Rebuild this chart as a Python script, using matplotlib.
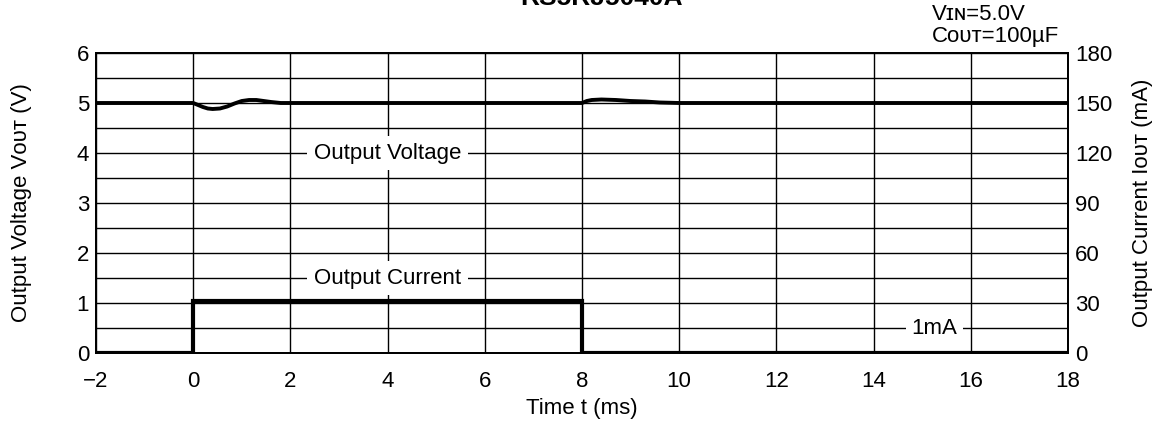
import matplotlib
matplotlib.use("Agg")
import matplotlib.pyplot as plt
from matplotlib.ticker import MultipleLocator

plt.rcParams['font.family'] = ['Liberation Sans', 'DejaVu Sans']
plt.rcParams['axes.unicode_minus'] = True

# output voltage trace (V)
t_v = [-2, 0, 0.1, 0.2, 0.3, 0.4, 0.55, 0.7, 0.85, 1.0, 1.15, 1.3, 1.45, 1.6, 1.8,
       8, 8.1, 8.2, 8.4, 8.7, 9.0, 9.3, 9.6, 10, 18]
v_out = [5.0, 5.0, 4.96, 4.92, 4.89, 4.88, 4.89, 4.93, 4.99, 5.04, 5.06, 5.06, 5.04, 5.02, 5.0,
         5.0, 5.04, 5.06, 5.07, 5.06, 5.04, 5.03, 5.01, 5.0, 5.0]

# output current step (mA)
t_i = [-2, 0, 0, 8, 8, 18]
i_out = [0, 0, 31, 31, 0, 0]

x_ticks = [-2, 0, 2, 4, 6, 8, 10, 12, 14, 16, 18]
v_ticks = [0, 1, 2, 3, 4, 5, 6]
i_ticks = [0, 30, 60, 90, 120, 150, 180]

fs = 16

fig = plt.figure(figsize=(11.65, 4.25), dpi=100)
ax = fig.add_axes([0.0824, 0.1694, 0.8343, 0.7059])
ax2 = ax.twinx()

ax.set_xlim(-2, 18)
ax.set_ylim(0, 6)
ax2.set_ylim(0, 180)
ax.set_xticks(x_ticks)
ax.set_xticklabels(['\u22122' if x == -2 else str(x) for x in x_ticks])
ax.set_yticks(v_ticks)
ax.yaxis.set_minor_locator(MultipleLocator(0.5))
ax2.set_yticks(i_ticks)

ax.grid(True, which='both', axis='y', color='black', lw=1.0)
ax.grid(True, which='major', axis='x', color='black', lw=1.0)
ax.set_axisbelow(True)
for a in (ax, ax2):
    a.tick_params(which='both', length=0, labelsize=fs, pad=5)
    for s in a.spines.values():
        s.set_linewidth(1.3)
ax.tick_params(axis='x', pad=13)

ax.plot(t_v, v_out, color='black', lw=2.8, solid_joinstyle='round', zorder=4)
ax2.plot(t_i, i_out, color='black', lw=3.0, solid_joinstyle='miter', zorder=4)

box = dict(facecolor='white', edgecolor='none', pad=5)
ax.text(4, 4, 'Output Voltage', fontsize=fs, ha='center', va='center', bbox=box, zorder=3)
ax.text(4, 1.5, 'Output Current', fontsize=fs, ha='center', va='center', bbox=box, zorder=3)
ax.text(15.25, 0.5, '1mA', fontsize=fs, ha='center', va='center',
        bbox=dict(facecolor='white', edgecolor='none', pad=4), zorder=3)

ax.set_xlabel('Time t (ms)', fontsize=fs, labelpad=4)
ax.set_ylabel('Output Voltage V\u1d0f\u1d1c\u1d1b (V)', fontsize=fs, labelpad=32)
ax2.set_ylabel('Output Current I\u1d0f\u1d1c\u1d1b (mA)', fontsize=fs, labelpad=14)

fig.text(0.8, 0.967, 'V\u026a\u0274=5.0V', fontsize=fs, ha='left', va='center')
fig.text(0.8, 0.913, 'C\u1d0f\u1d1c\u1d1b=100\u00b5F', fontsize=fs, ha='left', va='center')
fig.text(0.516, 1 - 5 / 425, 'RS5RJ5040A', fontsize=19, fontweight='bold', ha='center', va='baseline')

fig.savefig('out.png', dpi=100)
